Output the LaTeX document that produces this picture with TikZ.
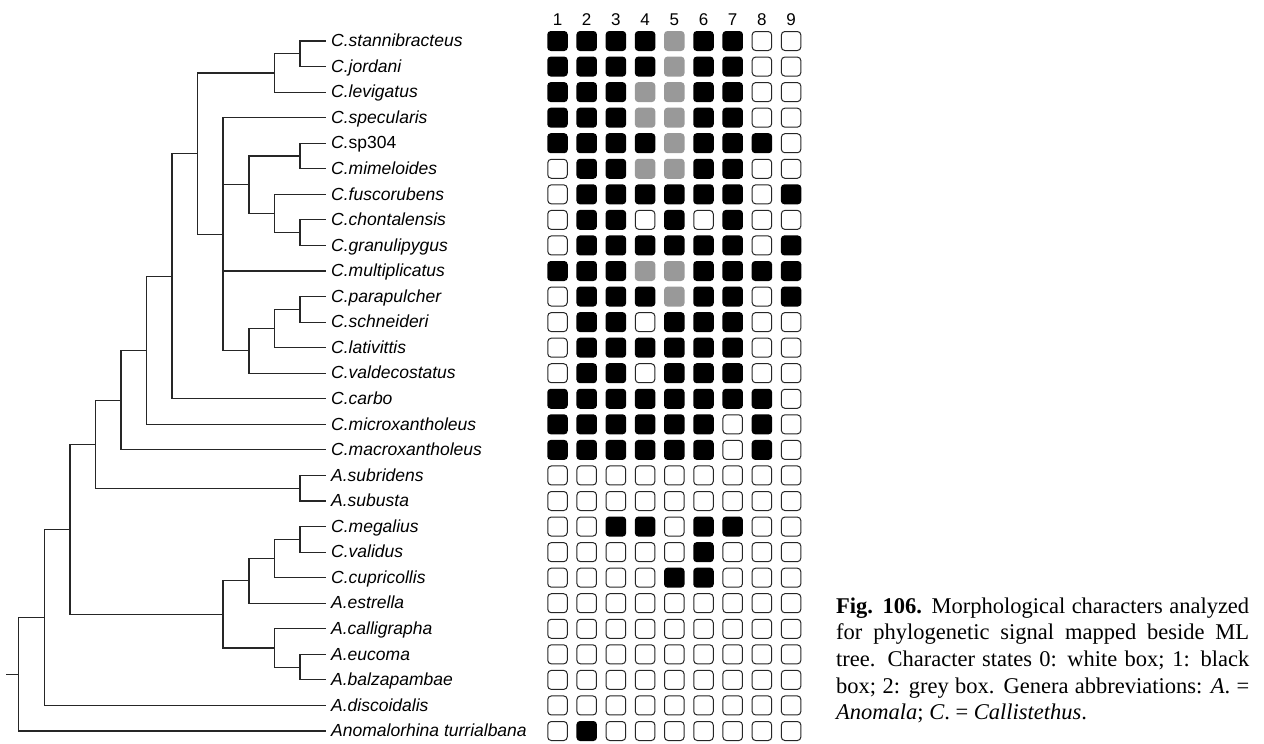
\documentclass[tikz,border=0pt]{standalone}
\usepackage{fontspec}
\setmainfont{Liberation Serif}
\newfontfamily\arialf{Liberation Sans}
\begin{document}
\begin{tikzpicture}[x=1pt,y=-1pt,
  br/.style={line width=1.1pt, draw=black!85},
  cbox/.style={minimum width=20.5pt, minimum height=20pt, inner sep=0pt, rounded corners=3.5pt},
  s0/.style={cbox, draw=black!85, line width=1pt, fill=white, minimum width=19.5pt, minimum height=19pt},
  s1/.style={cbox, fill=black},
  s2/.style={cbox, fill=black!40},
  lab/.style={anchor=base west, inner sep=0pt, font=\arialf\fontsize{17.5}{20}\selectfont\itshape},
  num/.style={inner sep=0pt, font=\arialf\fontsize{17}{20}\selectfont},
  captext/.style={anchor=base west, inner sep=0pt, font=\fontsize{22.5}{26.7}\selectfont}
]
\useasboundingbox (0,0) rectangle (1264,744);
% tips and labels
\foreach \t [count=\i from 0] in {%
  {C.stannibracteus},{C.jordani},{C.levigatus},{C.specularis},{C.\upshape sp304},{C.mimeloides},
  {C.fuscorubens},{C.chontalensis},{C.granulipygus},{C.multiplicatus},{C.parapulcher},
  {C.schneideri},{C.lativittis},{C.valdecostatus},{C.carbo},{C.microxantholeus},
  {C.macroxantholeus},{A.subridens},{A.subusta},{C.megalius},{C.validus},{C.cupricollis},
  {A.estrella},{A.calligrapha},{A.eucoma},{A.balzapambae},{A.discoidalis},{Anomalorhina turrialbana}}{
  \coordinate (t\i) at (326,{41+25.556*\i});
  \node[lab] (l\i) at (331,{46.7+25.556*\i}) {\t};
}
% internal nodes
\coordinate (nsj) at (300,53.78);
\coordinate (nsjl) at (274.3,72.95);
\coordinate (nE) at (300,156.0);
\coordinate (nG) at (300,232.67);
\coordinate (nF) at (274.3,213.5);
\coordinate (nC) at (249,184.75);
\coordinate (nI) at (300,309.34);
\coordinate (nH) at (274.3,328.5);
\coordinate (nD) at (249,350.87);
\coordinate (nB) at (223,234.27);
\coordinate (nA) at (197.7,153.61);
\coordinate (nJ) at (172,276.2);
\coordinate (nK) at (146.7,350.27);
\coordinate (nL) at (121,400.08);
\coordinate (nN) at (300,488.23);
\coordinate (nM) at (95.7,444.15);
\coordinate (nT) at (300,539.34);
\coordinate (nS) at (274.3,558.51);
\coordinate (nQ) at (249,580.87);
\coordinate (nU) at (300,667.12);
\coordinate (nR) at (274.3,647.95);
\coordinate (nP) at (223,614.41);
\coordinate (nO) at (70,529.28);
\coordinate (nV) at (44.3,617.37);
\coordinate (nW) at (18.7,674.19);
\coordinate (root) at (6,674.19);
\draw[br] (root) -- (nW);
\foreach \p/\c in {nW/nV,nW/t27,nV/nO,nV/t26,nO/nM,nO/nP,nM/nL,nM/nN,nN/t17,nN/t18,
  nL/nK,nL/t16,nK/nJ,nK/t15,nJ/nA,nJ/t14,nA/nsjl,nA/nB,nsjl/nsj,nsjl/t2,nsj/t0,nsj/t1,
  nB/t3,nB/nC,nB/t9,nB/nD,nC/nE,nC/nF,nE/t4,nE/t5,nF/t6,nF/nG,nG/t7,nG/t8,
  nD/nH,nD/t13,nH/nI,nH/t12,nI/t10,nI/t11,nP/nQ,nP/nR,nQ/nS,nQ/t22,nS/nT,nS/t21,
  nT/t19,nT/t20,nR/t23,nR/nU,nU/t24,nU/t25}
  \draw[br] (\p) |- (\c);
% column numbers
\foreach \j in {1,...,9}
  \node[num] (h\j) at ({557.5+29.2*(\j-1)},19.7) {\j};
% character matrix
\foreach \row [count=\i from 0] in {
  {1,1,1,1,2,1,1,0,0},{1,1,1,1,2,1,1,0,0},{1,1,1,2,2,1,1,0,0},{1,1,1,2,2,1,1,0,0},
  {1,1,1,1,2,1,1,1,0},{0,1,1,2,2,1,1,0,0},{0,1,1,1,1,1,1,0,1},{0,1,1,0,1,0,1,0,0},
  {0,1,1,1,1,1,1,0,1},{1,1,1,2,2,1,1,1,1},{0,1,1,1,2,1,1,0,1},{0,1,1,0,1,1,1,0,0},
  {0,1,1,1,1,1,1,0,0},{0,1,1,0,1,1,1,0,0},{1,1,1,1,1,1,1,1,0},{1,1,1,1,1,1,0,1,0},
  {1,1,1,1,1,1,0,1,0},{0,0,0,0,0,0,0,0,0},{0,0,0,0,0,0,0,0,0},{0,0,1,1,0,1,1,0,0},
  {0,0,0,0,0,1,0,0,0},{0,0,0,0,1,1,0,0,0},{0,0,0,0,0,0,0,0,0},{0,0,0,0,0,0,0,0,0},
  {0,0,0,0,0,0,0,0,0},{0,0,0,0,0,0,0,0,0},{0,0,0,0,0,0,0,0,0},{0,1,0,0,0,0,0,0,0}}{
  \foreach \s [count=\j from 1] in \row
    \node[s\s] (b\i-\j) at ({557.5+29.2*(\j-1)},{41+25.556*\i}) {};
}
% caption
\node[captext] (caption) at (836,613) {\parbox[t]{413pt}{%
  \makebox[\linewidth][s]{\textbf{Fig. 106.} Morphological characters analyzed}\\
  \makebox[\linewidth][s]{for phylogenetic signal mapped beside ML}\\
  \makebox[\linewidth][s]{tree. Character states 0: white box; 1: black}\\
  \makebox[\linewidth][s]{box; 2: grey box. Genera abbreviations: \textit{A}. =}\\
  \textit{Anomala}; \textit{C}. = \textit{Callistethus}.}};
\end{tikzpicture}
\end{document}
